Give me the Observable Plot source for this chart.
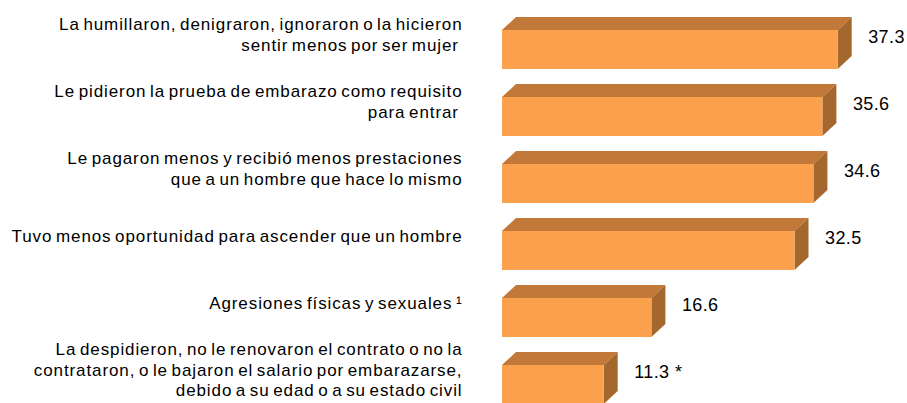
<!DOCTYPE html>
<html>
<head>
<meta charset="utf-8">
<script src="https://cdn.jsdelivr.net/npm/d3@7"></script>
<script src="https://cdn.jsdelivr.net/npm/@observablehq/plot@0.6"></script>
<style>
  html, body { margin: 0; padding: 0; background: #fff; }
  #chart g[font-size="17"] { letter-spacing: 0.9px; word-spacing: -2px; }
  #chart g[font-size="18"] { letter-spacing: 0.4px; }
</style>
</head>
<body>
<div id="chart"></div>
<script>
const categories = [
  "La humillaron, denigraron, ignoraron o la hicieron\nsentir menos por ser mujer ",
  "Le pidieron la prueba de embarazo como requisito\npara entrar ",
  "Le pagaron menos y recibió menos prestaciones\nque a un hombre que hace lo mismo",
  "Tuvo menos oportunidad para ascender que un hombre",
  "Agresiones físicas y sexuales ¹",
  "La despidieron, no le renovaron el contrato o no la\ncontrataron, o le bajaron el salario por embarazarse,\ndebido a su edad o a su estado civil"
];
const values = [37.3, 35.6, 34.6, 32.5, 16.6, 11.3];
const valueLabels = ["37.3", "35.6", "34.6", "32.5", "16.6", "11.3 *"];

const data = categories.map((c, i) => ({category: c, value: values[i], label: valueLabels[i]}));

const frontColor = "#FBA04C";
const topColor = "#C27838";
const sideColor = "#A4682F";
const depthX = 14, depthY = 13;

function bar3d(index, scales, vals, dimensions, context, next) {
  const g = next(index, scales, vals, dimensions, context);
  const rects = Array.from(g.querySelectorAll("rect"));
  const ns = "http://www.w3.org/2000/svg";
  const faces = document.createElementNS(ns, "g");
  for (const r of rects) {
    const x0 = +r.getAttribute("x"), y0 = +r.getAttribute("y");
    const x1 = x0 + +r.getAttribute("width"), y1 = y0 + +r.getAttribute("height");
    const top = document.createElementNS(ns, "polygon");
    top.setAttribute("points", [[x0, y0], [x1, y0], [x1 + depthX, y0 - depthY], [x0 + depthX, y0 - depthY]].map(p => p.join(",")).join(" "));
    top.setAttribute("fill", topColor);
    const side = document.createElementNS(ns, "polygon");
    side.setAttribute("points", [[x1, y0], [x1 + depthX, y0 - depthY], [x1 + depthX, y1 - depthY], [x1, y1]].map(p => p.join(",")).join(" "));
    side.setAttribute("fill", sideColor);
    faces.appendChild(top);
    faces.appendChild(side);
  }
  g.insertBefore(faces, g.firstChild);
  return g;
}

const plot = Plot.plot({
  width: 907,
  height: 403,
  marginLeft: 502,
  marginRight: 0,
  marginTop: 0,
  marginBottom: 0,
  style: {fontFamily: "'Liberation Sans', Arial, sans-serif", background: "#fff", color: "#000"},
  x: {domain: [0, 45], axis: null},
  y: {domain: categories, range: [28, 406.5], paddingInner: 0.417, paddingOuter: 0, axis: null},
  marks: [
    Plot.barX(data, {x1: 0, x2: "value", y: "category", fill: frontColor, render: bar3d}),
    Plot.text(data, {x: 0, y: "category", text: "category", textAnchor: "end", dx: -40, dy: -16, fontSize: 17, lineHeight: 1.22, fill: "#000"}),
    Plot.text(data, {x: "value", y: "category", text: "label", textAnchor: "start", dx: 30, dy: -13, fontSize: 18, fill: "#000"})
  ]
});
document.getElementById("chart").appendChild(plot);
</script>
</body>
</html>
